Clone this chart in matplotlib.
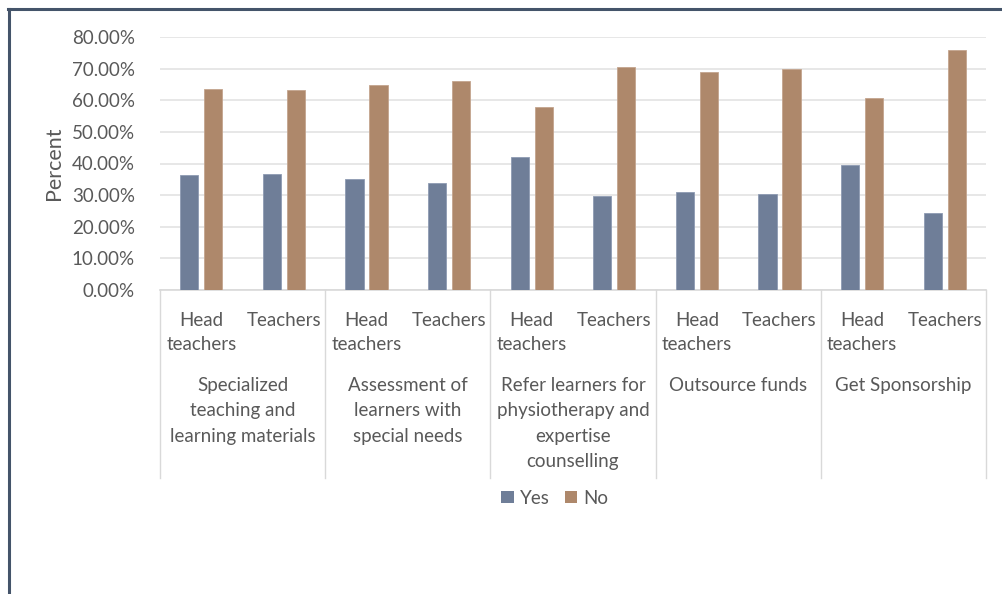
import matplotlib
matplotlib.use("Agg")
import matplotlib.pyplot as plt
from matplotlib.transforms import blended_transform_factory
from matplotlib.lines import Line2D
from matplotlib.patches import Patch
import numpy as np

categories = ["Specialized\nteaching and\nlearning materials",
              "Assessment of\nlearners with\nspecial needs",
              "Refer learners for\nphysiotherapy and\nexpertise\ncounselling",
              "Outsource funds",
              "Get Sponsorship"]
groups = ["Head\nteachers", "Teachers"]
yes_vals = [36.5, 36.8, 35.2, 33.8, 42.2, 29.6, 31.0, 30.2, 39.4, 24.2]
no_vals = [63.5, 63.2, 64.8, 66.2, 57.8, 70.4, 69.0, 69.8, 60.6, 75.8]
yticks = [0, 10, 20, 30, 40, 50, 60, 70, 80]

W, H = 1003, 594
fig = plt.figure(figsize=(W / 100, H / 100), dpi=100)
plt.rcParams['font.family'] = ['Lato', 'DejaVu Sans']
txt = '#595959'
fs = 13.5

left, right, top, bot = 160, 986, 37, 290
ax = fig.add_axes([left / W, 1 - bot / H, (right - left) / W, (bot - top) / H])

n = len(yes_vals)
x = np.arange(n) + 0.5
bw = 0.22
off = 0.145
ax.bar(x - off, yes_vals, bw, color='#6F7E98', edgecolor='#8E9BB2', linewidth=0.6, label='Yes', zorder=3)
ax.bar(x + off, no_vals, bw, color='#AE886B', edgecolor='#C4A58E', linewidth=0.6, label='No', zorder=3)

ax.set_xlim(0, n)
ax.set_ylim(0, 80)
ax.set_yticks(yticks)
ax.set_yticklabels([f"{v:.2f}%" for v in yticks], color=txt, fontsize=fs)
ax.tick_params(axis='y', length=0, pad=18)
ax.set_xticks([])
ax.grid(axis='y', color='#E3E3E3', linewidth=1.2, zorder=0)
for s in ['top', 'right', 'left']:
    ax.spines[s].set_visible(False)
ax.spines['bottom'].set_color('#D9D9D9')
ax.spines['bottom'].set_linewidth(1.2)
ax.set_ylabel('Percent', color=txt, fontsize=15.5, labelpad=6)

tr = blended_transform_factory(ax.transData, fig.transFigure)
def fy(py):
    return 1 - py / H

# group divider lines
for k in range(len(categories) + 1):
    xv = 2 * k
    fig.add_artist(Line2D([xv, xv], [fy(bot), fy(478)], transform=tr, color='#D9D9D9', linewidth=1.0))

# sub labels
for i in range(n):
    if i % 2 == 0:
        fig.text(x[i], fy(332.5), groups[0], transform=tr, ha='center', va='center',
                 color=txt, fontsize=fs, linespacing=1.5)
    else:
        fig.text(x[i], fy(320), groups[1], transform=tr, ha='center', va='center',
                 color=txt, fontsize=fs)

# category labels
for j, c in enumerate(categories):
    fig.text(2 * j + 1, fy(377), c, transform=tr, ha='center', va='top',
             color=txt, fontsize=fs, linespacing=1.6)

handles = [Patch(facecolor='#6F7E98'), Patch(facecolor='#AE886B')]
fig.legend(handles, ['Yes', 'No'], loc='center', bbox_to_anchor=(555 / W, fy(498)),
           ncol=2, frameon=False, handlelength=0.65, handleheight=0.65, handletextpad=0.35,
           columnspacing=0.8, fontsize=fs, labelcolor=txt)

# outer frame lines (top & left)
fig.add_artist(Line2D([8 / W, 1.0], [fy(9), fy(9)], transform=fig.transFigure, color='#44546A', linewidth=2.2))
fig.add_artist(Line2D([9 / W, 9 / W], [fy(9), 0], transform=fig.transFigure, color='#44546A', linewidth=2.2))

fig.savefig('out.png', dpi=100)
